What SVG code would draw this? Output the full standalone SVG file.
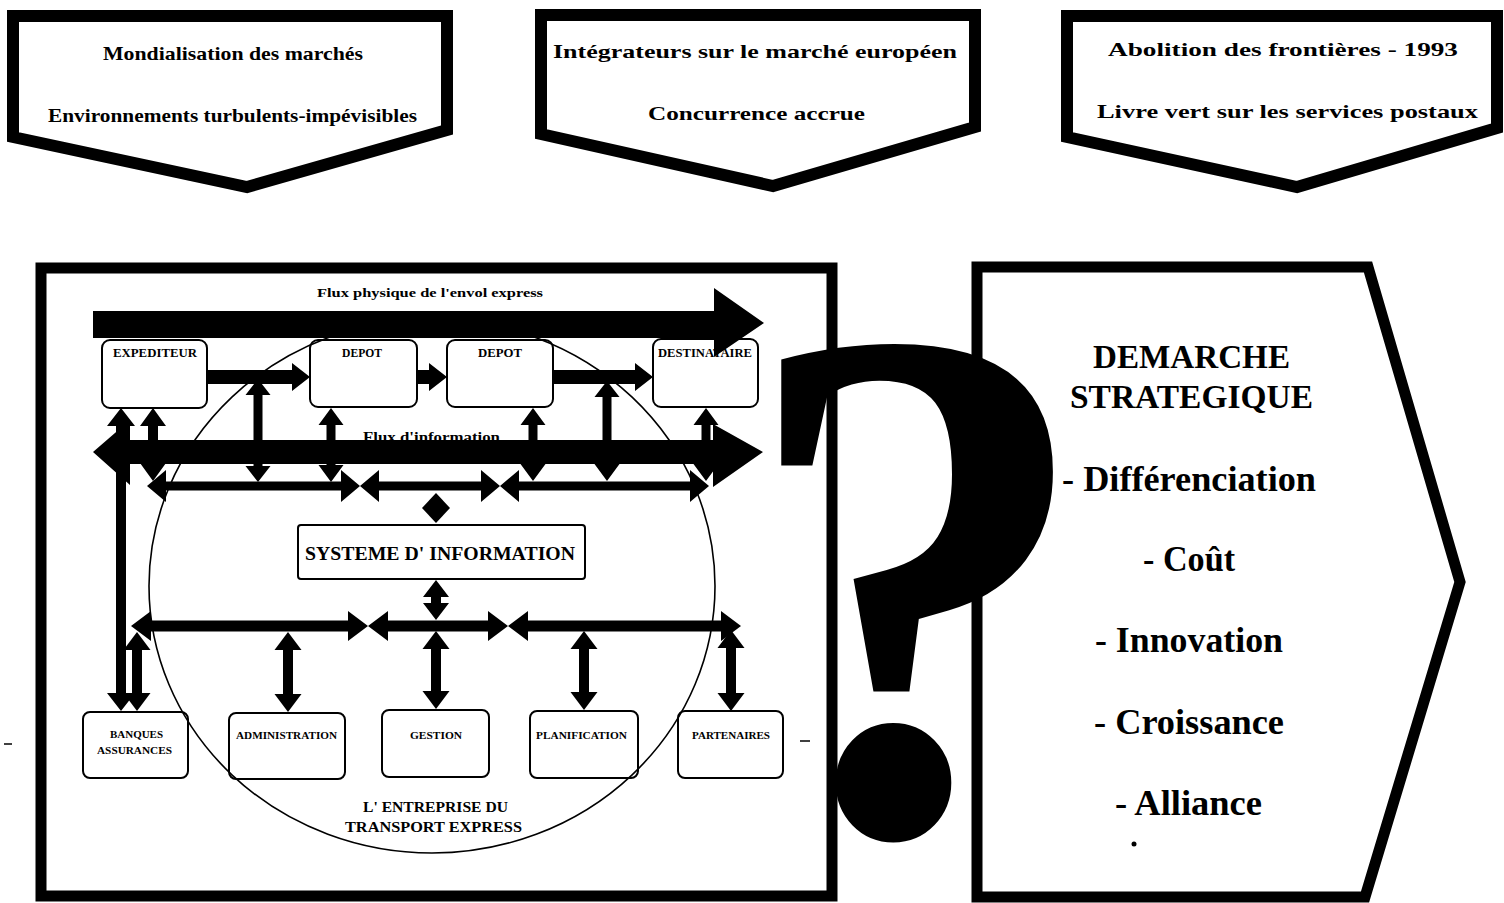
<svg xmlns="http://www.w3.org/2000/svg" width="1504" height="903" viewBox="0 0 1504 903">
<style>
.t{font-family:"Liberation Serif","Times New Roman",serif;font-weight:bold;fill:#000}
.pent{fill:#fff;stroke:#000;stroke-width:12;stroke-linejoin:miter}
.frame{fill:none;stroke:#000;stroke-width:11;stroke-linejoin:miter}
.box{fill:none;stroke:#000;stroke-width:2}
.arr{fill:#000;stroke:none}
.big{font-size:33px}
.item{font-size:36px}
.top{font-size:19px}
.sm{font-size:11px}
.md{font-size:12.5px}
</style>
<rect width="1504" height="903" fill="#fff"/>

<g id="env1">
<polygon class="pent" points="13,16 447,16 447,130 247,187 13,137"/>
<text class="t top" x="103" y="60" textLength="260" lengthAdjust="spacingAndGlyphs">Mondialisation des marchés</text>
<text class="t top" x="48" y="122" textLength="369" lengthAdjust="spacingAndGlyphs">Environnements turbulents-impévisibles</text>
</g>
<g id="env2">
<polygon class="pent" points="541,15 975,15 975,127 773,186 541,134"/>
<text class="t top" x="553" y="58" textLength="404" lengthAdjust="spacingAndGlyphs">Intégrateurs sur le marché européen</text>
<text class="t top" x="648" y="120" textLength="217" lengthAdjust="spacingAndGlyphs">Concurrence accrue</text>
</g>
<g id="env3">
<polygon class="pent" points="1067,16 1497,16 1497,128 1297,187 1067,137"/>
<text class="t top" x="1108" y="56" textLength="350" lengthAdjust="spacingAndGlyphs">Abolition des frontières -  1993</text>
<text class="t top" x="1097" y="118" textLength="381" lengthAdjust="spacingAndGlyphs">Livre vert sur les services postaux</text>
</g>

<g id="entreprise-frame">
<rect class="frame" x="41" y="268" width="791" height="628"/>
<ellipse cx="432" cy="586" rx="283" ry="267" fill="none" stroke="#000" stroke-width="1.6"/>
</g>

<g id="labels">
<text class="t" x="317" y="297" font-size="12.5" textLength="226" lengthAdjust="spacingAndGlyphs">Flux physique de l'envol express</text>
<text class="t" x="363" y="442" font-size="15" textLength="137" lengthAdjust="spacingAndGlyphs">Flux d'information</text>
<text class="t" x="363" y="812" font-size="15" textLength="145" lengthAdjust="spacingAndGlyphs">L' ENTREPRISE DU</text>
<text class="t" x="345" y="832" font-size="15" textLength="177" lengthAdjust="spacingAndGlyphs">TRANSPORT  EXPRESS</text>
</g>

<g id="connectors">
<polygon class="arr" points="93,311 714,311 714,288 764,323 714,357 714,338 93,338"/>
<polygon class="arr" points="93,452 130,420 130,440 713,440 713,424 763,452 713,487 713,464 130,464 130,485"/>
<polygon class="arr" points="207,370 292,370 292,363 310,377 292,391 292,384 207,384"/>
<polygon class="arr" points="417,370 429,370 429,363 447,377 429,391 429,384 417,384"/>
<polygon class="arr" points="553,370 635,370 635,363 653,377 635,391 635,384 553,384"/>
<polygon class="arr" points="121,408 135,426 126,426 126,693 135,693 121,711 107,693 116,693 116,426 107,426"/>
<polygon class="arr" points="153,408 166,426 158,426 158,463 166,463 153,481 140,463 148,463 148,426 140,426"/>
<polygon class="arr" points="258,379 270.5,395 262.5,395 262.5,466 270.5,466 258,482 245.5,466 253.5,466 253.5,395 245.5,395"/>
<polygon class="arr" points="331,408 343.5,425 335.5,425 335.5,465 343.5,465 331,482 318.5,465 326.5,465 326.5,425 318.5,425"/>
<polygon class="arr" points="533,408 545.5,425 537.5,425 537.5,464 545.5,464 533,481 520.5,464 528.5,464 528.5,425 520.5,425"/>
<polygon class="arr" points="607,381 619.5,397 611.5,397 611.5,464 619.5,464 607,481 594.5,464 602.5,464 602.5,397 594.5,397"/>
<polygon class="arr" points="706,408 718.5,425 710.5,425 710.5,464 718.5,464 706,481 693.5,464 701.5,464 701.5,425 693.5,425"/>
<polygon class="arr" points="147,486 166,470 166,481.5 341,481.5 341,470 360,486 341,502 341,490.5 166,490.5 166,502"/>
<polygon class="arr" points="360,486 379,470 379,481.5 481,481.5 481,470 500,486 481,502 481,490.5 379,490.5 379,502"/>
<polygon class="arr" points="500,486 519,470 519,481.5 690,481.5 690,470 709,486 690,502 690,490.5 519,490.5 519,502"/>
<polygon class="arr" points="436,493 450,508 436,523 422,508"/>
<polygon class="arr" points="436,580 449,597 441,597 441,603 449,603 436,620 423,603 431,603 431,597 423,597"/>
<polygon class="arr" points="131,626 151,611 151,620.5 348,620.5 348,611 368,626 348,641 348,631.5 151,631.5 151,641"/>
<polygon class="arr" points="368,626 388,611 388,620.5 488,620.5 488,611 508,626 488,641 488,631.5 388,631.5 388,641"/>
<polygon class="arr" points="508,626 528,611 528,620.5 721,620.5 721,611 741,626 721,641 721,631.5 528,631.5 528,641"/>
<polygon class="arr" points="137,632 150.5,650 142,650 142,693 150.5,693 137,711 123.5,693 132,693 132,650 123.5,650"/>
<polygon class="arr" points="288,632 301.5,650 293,650 293,694 301.5,694 288,712 274.5,694 283,694 283,650 274.5,650"/>
<polygon class="arr" points="436,631 449.5,649 441,649 441,691 449.5,691 436,709 422.5,691 431,691 431,649 422.5,649"/>
<polygon class="arr" points="584,631 597.5,649 589,649 589,692 597.5,692 584,710 570.5,692 579,692 579,649 570.5,649"/>
<polygon class="arr" points="731,630 744.5,648 736,648 736,693 744.5,693 731,711 717.5,693 726,693 726,648 717.5,648"/>
</g>

<g id="expediteur">
<rect class="box" x="102" y="340" width="105" height="68" rx="8"/>
<text class="t md" x="113" y="357" textLength="84" lengthAdjust="spacingAndGlyphs">EXPEDITEUR</text>
</g>
<g id="depot1">
<rect class="box" x="310" y="340" width="107" height="67" rx="8"/>
<text class="t md" x="342" y="357" textLength="40" lengthAdjust="spacingAndGlyphs">DEPOT</text>
</g>
<g id="depot2">
<rect class="box" x="447" y="340" width="106" height="67" rx="8"/>
<text class="t md" x="478" y="357" textLength="44" lengthAdjust="spacingAndGlyphs">DEPOT</text>
</g>
<g id="destinataire">
<rect class="box" x="653" y="339" width="105" height="68" rx="8"/>
<text class="t md" x="658" y="357" textLength="94" lengthAdjust="spacingAndGlyphs">DESTINATAIRE</text>
</g>
<g id="systeme-information">
<rect class="box" x="298" y="525" width="287" height="54" rx="3"/>
<text class="t" x="305" y="560" font-size="19" textLength="270" lengthAdjust="spacingAndGlyphs">SYSTEME  D' INFORMATION</text>
</g>
<g id="banques">
<rect class="box" x="83" y="712" width="105" height="66" rx="7"/>
<text class="t sm" x="110" y="738" textLength="53" lengthAdjust="spacingAndGlyphs">BANQUES</text>
<text class="t sm" x="97" y="754" textLength="75" lengthAdjust="spacingAndGlyphs">ASSURANCES</text>
</g>
<g id="administration">
<rect class="box" x="229" y="713" width="116" height="66" rx="7"/>
<text class="t sm" x="236" y="739" textLength="101" lengthAdjust="spacingAndGlyphs">ADMINISTRATION</text>
</g>
<g id="gestion">
<rect class="box" x="382" y="710" width="107" height="67" rx="7"/>
<text class="t sm" x="410" y="739" textLength="52" lengthAdjust="spacingAndGlyphs">GESTION</text>
</g>
<g id="planification">
<rect class="box" x="530" y="711" width="108" height="67" rx="7"/>
<text class="t sm" x="536" y="739" textLength="91" lengthAdjust="spacingAndGlyphs">PLANIFICATION</text>
</g>
<g id="partenaires">
<rect class="box" x="678" y="711" width="105" height="67" rx="7"/>
<text class="t sm" x="692" y="739" textLength="78" lengthAdjust="spacingAndGlyphs">PARTENAIRES</text>
</g>

<g id="demarche">
<polygon class="frame" points="977,267 1368,267 1460,582 1365,897 977,897"/>
<text class="t big" x="1093" y="368" textLength="197" lengthAdjust="spacingAndGlyphs">DEMARCHE</text>
<text class="t big" x="1070" y="408" textLength="243" lengthAdjust="spacingAndGlyphs">STRATEGIQUE</text>
<text class="t item" x="1062" y="491" textLength="254" lengthAdjust="spacingAndGlyphs">- Différenciation</text>
<text class="t item" x="1143" y="571" textLength="92" lengthAdjust="spacingAndGlyphs">- Coût</text>
<text class="t item" x="1095" y="652" textLength="188" lengthAdjust="spacingAndGlyphs">- Innovation</text>
<text class="t item" x="1094" y="734" textLength="190" lengthAdjust="spacingAndGlyphs">- Croissance</text>
<text class="t item" x="1115" y="815" textLength="147" lengthAdjust="spacingAndGlyphs">- Alliance</text>
<circle cx="1134" cy="844" r="2.5" fill="#000"/>
</g>

<g id="question">
<text class="t" x="738" y="0" font-size="715" transform="translate(0,832) scale(1,1.031)">?</text>
</g>

<g id="marks" stroke="#000" stroke-width="1.5">
<line x1="4" y1="744" x2="12" y2="744"/>
<line x1="800" y1="741" x2="810" y2="741"/>
</g>
</svg>
